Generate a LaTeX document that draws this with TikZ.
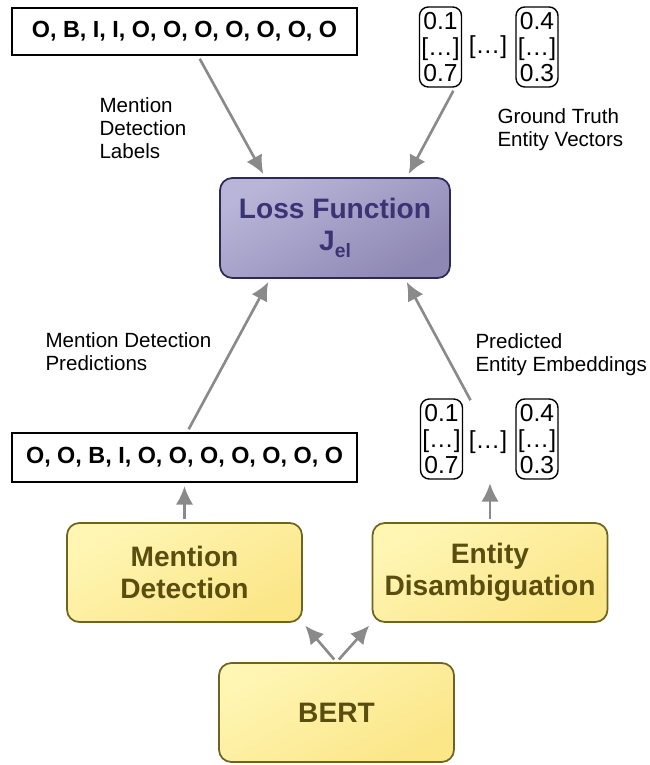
\documentclass[tikz,border=0pt]{standalone}
\usepackage{fontspec}
\setmainfont{Liberation Sans}
\usetikzlibrary{arrows.meta}

\definecolor{arrgray}{HTML}{8A8A8A}
\definecolor{losstop}{HTML}{B9B5D8}
\definecolor{lossbot}{HTML}{8E88B4}
\definecolor{lossline}{HTML}{2C2858}
\definecolor{losstext}{HTML}{3A3474}
\definecolor{yeltop}{HTML}{FFF6B4}
\definecolor{yelbot}{HTML}{FBE688}
\definecolor{yelline}{HTML}{6E6420}
\definecolor{yeltext}{HTML}{5A4D10}

\begin{document}
\begin{tikzpicture}[>={Latex[length=10.5pt,width=10pt]},->,semithick,
  every node/.style={inner sep=0pt},
  seqbox/.style={draw,line width=0.8pt,minimum width=6.9cm,font=\fontsize{13.3}{15}\selectfont\bfseries},
  vecbox/.style={draw,line width=0.8pt,rounded corners=5pt,minimum width=0.84cm,minimum height=1.6cm,align=center,font=\fontsize{14}{14.8}\selectfont},
  vecdots/.style={font=\fontsize{14}{14.8}\selectfont},
  note/.style={anchor=north west,align=left,font=\fontsize{11.7}{13}\selectfont},
  lossbox/.style={draw=lossline,line width=1pt,rounded corners=7pt,top color=losstop,bottom color=lossbot,shading angle=30,text=losstext,align=center,minimum width=4.6cm,minimum height=2cm,font=\fontsize{16}{20}\selectfont\bfseries},
  modbox/.style={draw=yelline,line width=1pt,rounded corners=7pt,top color=yeltop,bottom color=yelbot,shading angle=30,text=yeltext,align=center,minimum width=4.7cm,minimum height=1.98cm,font=\fontsize{16}{18.3}\selectfont\bfseries},
  arr/.style={draw=arrgray,line width=1.5pt,shorten <=2pt,shorten >=2pt}]

\useasboundingbox (0,0) rectangle (12.98,-15.3);

\node (mdlab) at (3.69,-0.63) [seqbox,minimum height=0.94cm] {O, B, I, I, O, O, O, O, O, O, O};

\node (gtvec1) at (8.81,-0.94) [vecbox] {0.1\\{[\ldots]}\\0.7};
\node (gtdots) at (9.76,-0.94) [vecdots] {[\ldots]};
\node (gtvec2) at (10.74,-0.94) [vecbox] {0.4\\{[\ldots]}\\0.3};

\node (loss) at (6.7,-4.56) [lossbox] {Loss Function\\[-2pt]J\raisebox{-4pt}{\fontsize{11}{11}\selectfont el}};

\node (mdpred) at (3.69,-9.15) [seqbox,minimum height=0.98cm] {O, O, B, I, O, O, O, O, O, O, O};

\node (pevec1) at (8.83,-8.78) [vecbox] {0.1\\{[\ldots]}\\0.7};
\node (pedots) at (9.76,-8.84) [vecdots] {[\ldots]};
\node (pevec2) at (10.74,-8.78) [vecbox] {0.4\\{[\ldots]}\\0.3};

\node (md) at (3.69,-11.45) [modbox] {Mention\\Detection};
\node (ed) at (9.8,-11.45) [modbox] {Entity\\Disambiguation};
\node (bert) at (6.73,-14.25) [modbox] {BERT};

\node (mdlabnote) at (1.98,-1.94) [note] {Mention\\Detection\\Labels};
\node (gtnote) at (9.94,-2.16) [note] {Ground Truth\\Entity Vectors};
\node (mdprednote) at (0.9,-6.64) [note] {Mention Detection\\Predictions};
\node (penote) at (9.5,-6.66) [note] {Predicted\\Entity Embeddings};

\path [every edge/.append style=arr]
    ([xshift=2.7mm]mdlab.south) edge ([xshift=-14mm]loss.north)
    ([xshift=2.9mm]gtvec1.south) edge ([xshift=14.4mm]loss.north)
    ([xshift=0.5mm]mdpred.north) edge ([xshift=-13mm]loss.south)
    ([xshift=1.8mm,yshift=-1mm]pevec1.north east) edge ([xshift=14mm]loss.south)
    (md.north) edge (mdpred.south)
    (ed.north) edge (ed.north |- pevec1.south)
    (bert.north) edge (md.south east)
    (bert.north) edge (ed.south west)
;

\end{tikzpicture}
\end{document}
